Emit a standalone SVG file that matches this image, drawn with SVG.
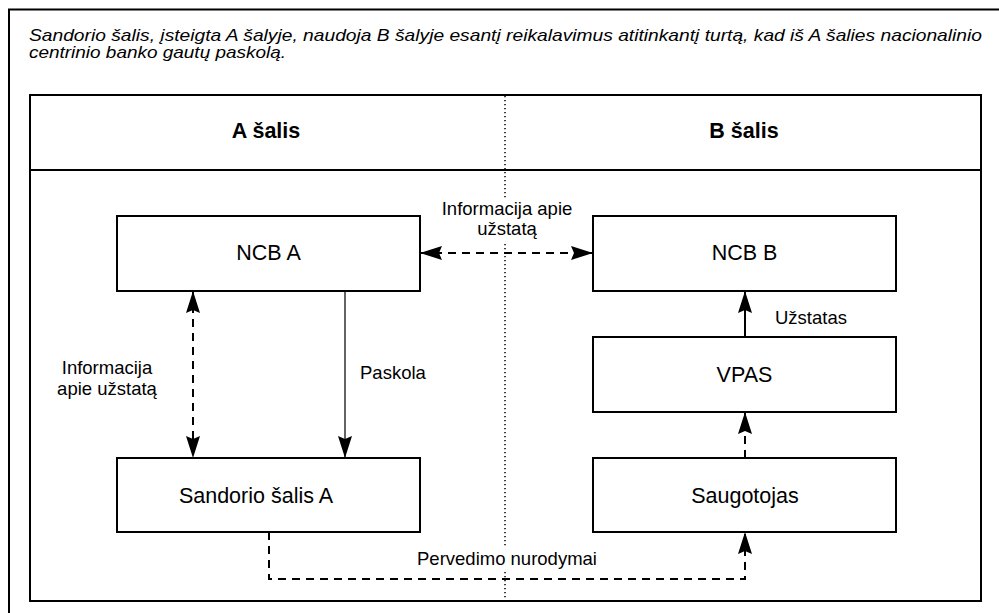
<svg xmlns="http://www.w3.org/2000/svg" width="999" height="613" viewBox="0 0 999 613">
<style>
.frame{fill:none;stroke:#000;stroke-width:2}
.box{fill:#fff;stroke:#000;stroke-width:2}
.t{font-family:"Liberation Sans",Arial,sans-serif;fill:#000}
.title{font-size:16.5px;font-style:italic}
.hdr{font-size:21.5px;font-weight:bold;text-anchor:middle}
.node{font-size:21.5px;text-anchor:middle}
.lbl{font-size:18.5px}
.c{text-anchor:middle}
.solid{fill:none;stroke:#000;stroke-width:2}
.thin{fill:none;stroke:#222;stroke-width:1.4}
.dash{fill:none;stroke:#000;stroke-width:2;stroke-dasharray:8 6}
.dot{fill:none;stroke:#000;stroke-width:1.5;stroke-dasharray:1.2 2.8}
.bg{fill:#fff}
</style>
<defs>
<marker id="arr" viewBox="0 0 22 14" markerWidth="22" markerHeight="14" refX="22" refY="7" orient="auto-start-reverse" markerUnits="userSpaceOnUse">
<path d="M0,0 L22,7 L0,14 L3,7 z" fill="#000"/>
</marker>
</defs>
<rect width="999" height="613" fill="#fff"/>
<g id="outer-frame">
<path class="frame" d="M9,613 V9.5 H999"/>
</g>
<g id="title">
<text class="t title" x="29" y="41" textLength="953" lengthAdjust="spacingAndGlyphs">Sandorio šalis, įsteigta A šalyje, naudoja B šalyje esantį reikalavimus atitinkantį turtą, kad iš A šalies nacionalinio</text>
<text class="t title" x="29" y="58" textLength="257" lengthAdjust="spacingAndGlyphs">centrinio banko gautų paskolą.</text>
</g>
<g id="panel">
<rect class="frame" x="30" y="95" width="951" height="506"/>
<line class="frame" x1="30" y1="170" x2="981" y2="170"/>
<line class="dot" x1="505" y1="96" x2="505" y2="600"/>
</g>
<g id="header-a"><text class="t hdr" x="266" y="138">A šalis</text></g>
<g id="header-b"><text class="t hdr" x="744" y="138">B šalis</text></g>
<g id="connectors">
<line class="dash" x1="420" y1="253" x2="593" y2="253" marker-start="url(#arr)" marker-end="url(#arr)"/>
<line class="dash" x1="193" y1="291" x2="193" y2="458" marker-start="url(#arr)" marker-end="url(#arr)"/>
<line class="thin" x1="345" y1="291" x2="345" y2="458" marker-end="url(#arr)"/>
<line class="solid" x1="745" y1="337" x2="745" y2="291" marker-end="url(#arr)"/>
<line class="dash" x1="745" y1="458" x2="745" y2="412" marker-end="url(#arr)"/>
<path class="dash" d="M269,532 V579 H745 V532" marker-end="url(#arr)"/>
<rect class="bg" x="436" y="198" width="142" height="44"/>
<text class="t lbl c" x="507" y="215">Informacija apie</text>
<text class="t lbl c" x="507" y="235">užstatą</text>
<text class="t lbl c" x="107" y="374">Informacija</text>
<text class="t lbl c" x="107" y="395">apie užstatą</text>
<text class="t lbl" x="360" y="379">Paskola</text>
<text class="t lbl" x="775" y="324">Užstatas</text>
<rect class="bg" x="412" y="547" width="190" height="24"/>
<text class="t lbl c" x="507" y="565">Pervedimo nurodymai</text>
</g>
<g id="node-ncb-a">
<rect class="box" x="117" y="216" width="303" height="75"/>
<text class="t node" x="268.5" y="260">NCB A</text>
</g>
<g id="node-ncb-b">
<rect class="box" x="593" y="216" width="303" height="75"/>
<text class="t node" x="744.5" y="260">NCB B</text>
</g>
<g id="node-vpas">
<rect class="box" x="593" y="337" width="303" height="75"/>
<text class="t node" x="744.5" y="382">VPAS</text>
</g>
<g id="node-sandorio">
<rect class="box" x="117" y="458" width="303" height="74"/>
<text class="t node" x="256" y="503">Sandorio šalis A</text>
</g>
<g id="node-saugotojas">
<rect class="box" x="593" y="458" width="303" height="74"/>
<text class="t node" x="745" y="503">Saugotojas</text>
</g>
</svg>
